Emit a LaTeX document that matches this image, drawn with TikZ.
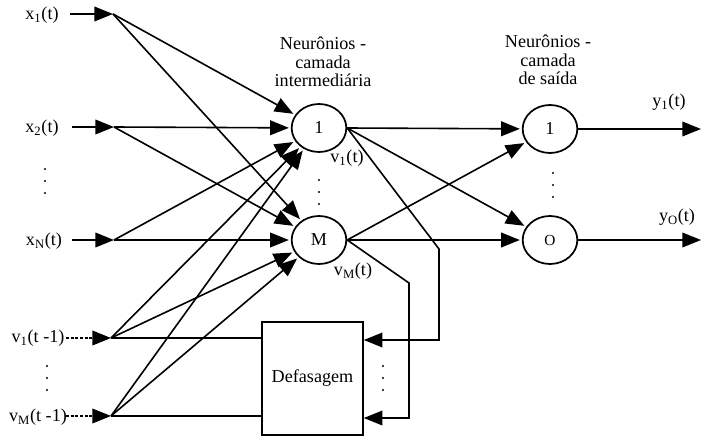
\documentclass[tikz,border=0pt]{standalone}
\usepackage{fontspec}
\setmainfont{Liberation Serif}
\usetikzlibrary{arrows.meta,shapes.geometric}
\begin{document}
\begin{tikzpicture}[x=0.75pt,y=-0.75pt,
  every node/.style={font=\fontsize{13.6}{13.8}\selectfont},
  neuron/.style={draw,ellipse,line width=1.3pt,minimum width=41pt,minimum height=36pt,inner sep=0pt},
  arr/.style={line width=1.2pt,-{Triangle[length=14pt,width=11pt]}},
  tarr/.style={arr,shorten >=1.5pt},
  ln/.style={line width=1.2pt},
  dotted line/.style={line width=1.2pt,dash pattern=on 2.2pt off 1.3pt,-{Triangle[length=14pt,width=11pt]}},
  lab/.style={inner sep=0pt},
  dotdot/.style={radius=1.2}]
\useasboundingbox (0,0) rectangle (712,438);
\fill[white] (0,0) rectangle (712,438);

% input labels
\node[lab] (lx1) at (42,15) {x\textsubscript{1}(t)};
\node[lab] (lx2) at (42,128) {x\textsubscript{2}(t)};
\node[lab] (lxn) at (44,241) {x\textsubscript{N}(t)};
\node[lab] (lv1) at (38,338) {v\textsubscript{1}(t -1)};
\node[lab] (lvm) at (38,417) {v\textsubscript{M}(t -1)};

% fan points
\coordinate (p1) at (113,14);
\coordinate (p2) at (114,127);
\coordinate (pn) at (114,240);
\coordinate (q1) at (111,338);
\coordinate (qm) at (111,416);

\draw[arr] (70,14) coordinate (s1) -- (p1);
\draw[arr] (72,127) coordinate (s2) -- (p2);
\draw[arr] (72,240) coordinate (sn) -- (pn);
\draw[dotted line] (66,338) coordinate (t1) -- (q1);
\draw[dotted line] (66,416) coordinate (tm) -- (qm);

% left dots
\fill (45,169) circle[dotdot] (45,181) circle[dotdot] (45,193) circle[dotdot];
\fill (47,366) circle[dotdot] (47,378) circle[dotdot] (47,390) circle[dotdot];

% hidden neurons
\node[neuron] (H1) at (319,128) {1};
\node[neuron] (HM) at (319,240) {M};
\fill (319,180) circle[dotdot] (319,192) circle[dotdot] (319,204) circle[dotdot];

% output neurons
\node[neuron] (O1) at (550,129) {1};
\node[neuron] (OO) at (550,240) {\fontsize{11.5}{12}\selectfont O};
\fill (553,173) circle[dotdot] (553,185) circle[dotdot] (553,197) circle[dotdot];

% headers
\node[lab,align=center] (hd1) at (323,62) {Neurônios -\\camada\\intermediária};
\node[lab,align=center] (hd2) at (548,60) {Neurônios -\\camada\\de saída};

% delay box
\node[draw,line width=1.2pt,minimum width=75.75pt,minimum height=84.75pt,inner sep=0pt] (B) at (312.5,378.5) {Defasagem};

% input connections
\foreach \s in {p1,p2,pn,q1,qm} {
  \draw[tarr] (\s) -- (H1);
  \draw[tarr] (\s) -- (HM);
}
\draw[ln] (q1) -- (q1 -| B.west);
\draw[ln] (qm) -- (qm -| B.west);

% hidden to output
\draw[tarr] (H1.east) -- (O1);
\draw[tarr] (H1.east) -- (OO);
\draw[tarr] (HM.east) -- (O1);
\draw[tarr] (HM.east) -- (OO);

% outputs
\draw[arr] (O1.east) -- (701,129) coordinate (e1);
\draw[arr] (OO.east) -- (701,240) coordinate (e2);
\node[lab] (ly1) at (669,102) {y\textsubscript{1}(t)};
\node[lab] (lyo) at (677,217) {y\textsubscript{O}(t)};

% hidden output labels
\node[lab] (lh1) at (347,158) {v\textsubscript{1}(t)};
\node[lab] (lhm) at (353,271) {v\textsubscript{M}(t)};

% feedback
\coordinate (f1a) at (439,249);
\coordinate (f1b) at (439,340);
\coordinate (fma) at (409,283);
\coordinate (fmb) at (409,418);
\draw[arr] (H1.east) -- (f1a) -- (f1b) -- (f1b -| B.east);
\draw[arr] (HM.east) -- (fma) -- (fmb) -- (fmb -| B.east);
\fill (383,366) circle[dotdot] (383,378) circle[dotdot] (383,390) circle[dotdot];
\end{tikzpicture}
\end{document}
